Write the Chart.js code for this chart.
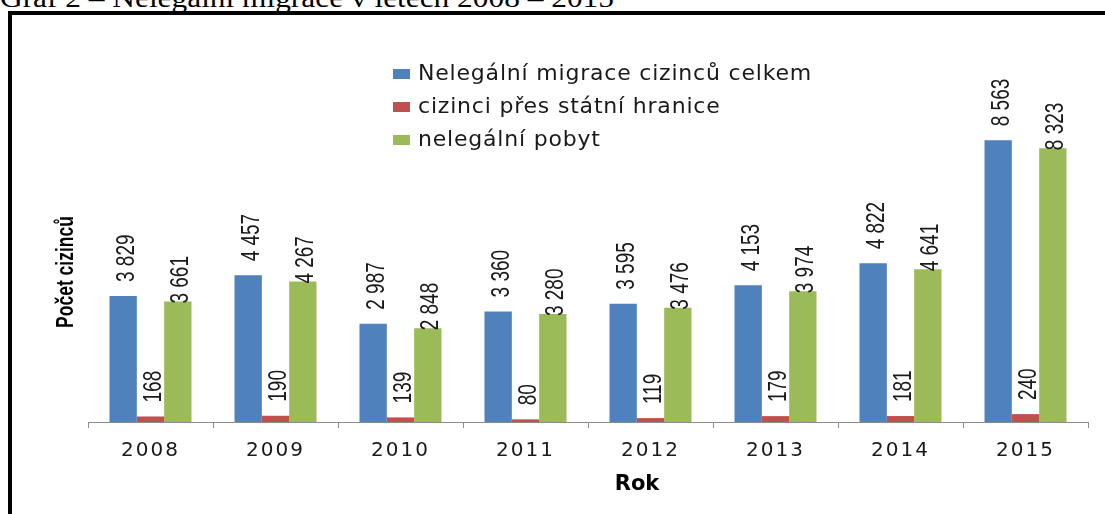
<!DOCTYPE html>
<html>
<head>
<meta charset="utf-8">
<script src="https://cdn.jsdelivr.net/npm/chart.js@4.4.1/dist/chart.umd.min.js"></script>
<style>
  html, body { margin: 0; padding: 0; background: #fff; width: 1105px; height: 514px; overflow: hidden; }
  #title { position: absolute; left: 0; top: -16px; font-family: "Liberation Serif", "Times New Roman", serif; font-size: 28px; line-height: 28px; white-space: nowrap; color: #000; transform-origin: left top; transform: scaleX(1.12); }
  #frame { position: absolute; left: 8px; top: 11px; width: 1200px; height: 600px; border-left: 4px solid #000; border-top: 4px solid #000; }
  #wrap { position: absolute; left: 0; top: 0; width: 1105px; height: 514px; }
</style>
</head>
<body>
<div id="title">Graf 2 – Nelegální migrace v letech 2008 – 2015</div>
<div id="frame"></div>
<div id="wrap"><canvas id="c" width="1105" height="514"></canvas></div>
<script>
const categories = ['2008', '2009', '2010', '2011', '2012', '2013', '2014', '2015'];
const seriesNames = ['Nelegální migrace cizinců celkem', 'cizinci přes státní hranice', 'nelegální pobyt'];
const celkem = [3829, 4457, 2987, 3360, 3595, 4153, 4822, 8563];
const hranice = [168, 190, 139, 80, 119, 179, 181, 240];
const pobyt = [3661, 4267, 2848, 3280, 3476, 3974, 4641, 8323];
const yTitle = 'Počet cizinců';
const xTitle = 'Rok';

const colors = ['#4F81BD', '#C0504D', '#9BBB59'];
const labelOffsets = [14, 14, -2];

function fmt(v) {
  if (v >= 1000) return Math.floor(v / 1000) + ' ' + String(v % 1000).padStart(3, '0');
  return String(v);
}

const spacing = {
  id: 'spacing',
  beforeDraw(chart) { chart.ctx.letterSpacing = '2px'; },
  beforeDatasetsDraw(chart) { chart.ctx.letterSpacing = '0px'; }
};

const valueLabels = {
  id: 'valueLabels',
  afterDatasetsDraw(chart) {
    const ctx = chart.ctx;
    ctx.save();
    ctx.letterSpacing = '0px';
    ctx.font = '19px "Liberation Sans", Arial, sans-serif';
    ctx.fillStyle = '#1a1a1a';
    chart.data.datasets.forEach((ds, i) => {
      const meta = chart.getDatasetMeta(i);
      meta.data.forEach((bar, j) => {
        ctx.save();
        ctx.translate(bar.x + 10.5, bar.y - labelOffsets[i]);
        ctx.rotate(-Math.PI / 2);
        ctx.scale(1, 1.35);
        ctx.textAlign = 'left';
        ctx.textBaseline = 'alphabetic';
        ctx.fillText(fmt(ds.data[j]), 0, 0);
        ctx.restore();
      });
    });
    ctx.restore();
  }
};

const extras = {
  id: 'extras',
  afterDraw(chart) {
    const ctx = chart.ctx;
    const ca = chart.chartArea;
    ctx.save();
    // legend
    ctx.letterSpacing = '0.8px';
    ctx.font = '22px "DejaVu Sans", sans-serif';
    ctx.textAlign = 'left';
    ctx.textBaseline = 'alphabetic';
    const baselines = [80, 113, 146];
    chart.data.datasets.forEach((ds, i) => {
      ctx.fillStyle = ds.backgroundColor;
      ctx.fillRect(393, baselines[i] - 11, 17, 10);
      ctx.fillStyle = '#1a1a1a';
      ctx.fillText(ds.label, 418, baselines[i]);
    });
    ctx.letterSpacing = '0px';
    // y title
    ctx.save();
    ctx.translate(66, 272);
    ctx.rotate(-Math.PI / 2);
    ctx.scale(1, 1.35);
    ctx.font = 'bold 17.5px "Liberation Sans", Arial, sans-serif';
    ctx.textAlign = 'center';
    ctx.textBaseline = 'middle';
    ctx.fillStyle = '#000';
    ctx.fillText(yTitle, 0, 0);
    ctx.restore();
    // x title
    ctx.font = 'bold 21px "DejaVu Sans", sans-serif';
    ctx.textAlign = 'center';
    ctx.textBaseline = 'middle';
    ctx.fillStyle = '#000';
    ctx.fillText(xTitle, ca.left + (ca.right - ca.left) * 0.549, 485);
    ctx.restore();
  }
};

new Chart(document.getElementById('c'), {
  type: 'bar',
  data: {
    labels: categories,
    datasets: [
      { label: seriesNames[0], data: celkem, backgroundColor: colors[0] },
      { label: seriesNames[1], data: hranice, backgroundColor: colors[1] },
      { label: seriesNames[2], data: pobyt, backgroundColor: colors[2] }
    ]
  },
  options: {
    responsive: false,
    animation: false,
    devicePixelRatio: 1,
    datasets: { bar: { categoryPercentage: 0.656, barPercentage: 1.0, borderWidth: 0 } },
    layout: { padding: { left: 88, right: 17, top: 93, bottom: 0 } },
    plugins: { legend: { display: false }, tooltip: { enabled: false }, title: { display: false } },
    scales: {
      x: {
        offset: true,
        grid: { offset: true, drawOnChartArea: false, drawTicks: true, tickLength: 6, color: '#8c8c8c' },
        border: { display: true, color: '#8c8c8c', width: 1 },
        ticks: { font: { family: '"DejaVu Sans", sans-serif', size: 20 }, color: '#1a1a1a', padding: 11, maxRotation: 0 },
        afterFit(scale) { scale.height = 92; }
      },
      y: { display: false, min: 0, max: 10000 }
    }
  },
  plugins: [spacing, valueLabels, extras]
});
</script>
</body>
</html>
